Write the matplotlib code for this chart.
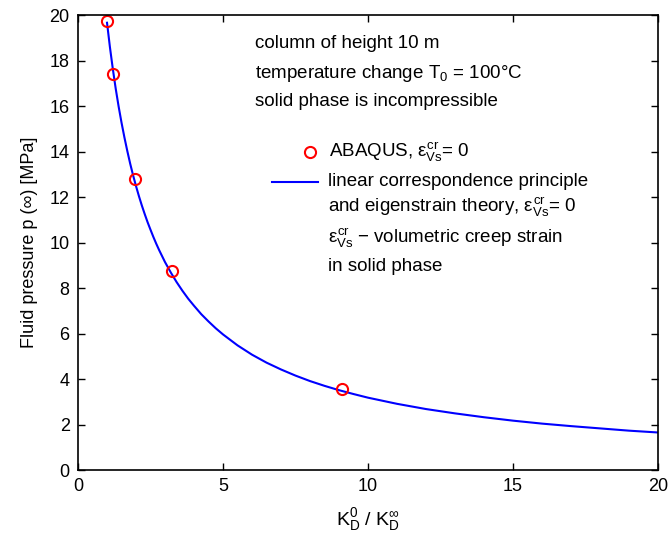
import matplotlib
matplotlib.use('Agg')
import matplotlib.pyplot as plt

plt.rcParams['font.family'] = ['Liberation Sans', 'DejaVu Sans']
plt.rcParams['mathtext.fontset'] = 'custom'
plt.rcParams['mathtext.rm'] = 'Liberation Sans'
plt.rcParams['mathtext.it'] = 'Liberation Sans'
plt.rcParams['mathtext.bf'] = 'Liberation Sans'

# stiffness ratio K_D^0 / K_D^inf and fluid pressure p(inf) [MPa]
theory_x = [1.0, 1.1, 1.2, 1.3, 1.4, 1.5, 1.6, 1.7, 1.8, 1.9, 2.0, 2.1, 2.2, 2.3,
            2.4, 2.5, 2.6, 2.7, 2.8, 2.9, 3.0, 3.2, 3.4, 3.6, 3.8, 4.0, 4.25, 4.5,
            4.75, 5.0, 5.5, 6.0, 6.5, 7.0, 7.5, 8.0, 8.5, 9.0, 9.5, 10.0, 11.0,
            12.0, 13.0, 14.0, 15.0, 16.0, 17.0, 18.0, 19.0, 20.0]
theory_p = [19.66, 18.59, 17.63, 16.76, 15.98, 15.27, 14.62, 14.02, 13.46, 12.95,
            12.48, 12.04, 11.63, 11.25, 10.89, 10.56, 10.24, 9.94, 9.66, 9.40,
            9.14, 8.68, 8.26, 7.88, 7.53, 7.22, 6.85, 6.53, 6.23, 5.96, 5.48,
            5.07, 4.72, 4.42, 4.15, 3.91, 3.70, 3.51, 3.34, 3.18, 2.91, 2.68,
            2.49, 2.32, 2.17, 2.04, 1.93, 1.83, 1.73, 1.65]

abaqus_x = [1.0, 1.2, 1.95, 3.25, 9.1]
abaqus_p = [19.75, 17.4, 12.8, 8.75, 3.55]

fig = plt.figure(figsize=(6.68, 5.42), dpi=100)
ax = fig.add_axes([0.1168, 0.1328, 0.8682, 0.8395])

ax.plot(theory_x, theory_p, color='#0000ff', lw=1.5, solid_joinstyle='round')
ax.plot(abaqus_x, abaqus_p, 'o', mfc='none', mec='#ff0000', mew=1.5, ms=8,
        clip_on=False)

ax.set_xlim(0, 20)
ax.set_ylim(0, 20)
ax.set_xticks([0, 5, 10, 15, 20])
ax.set_yticks(range(0, 21, 2))
ax.tick_params(direction='in', length=5, width=1, top=True, right=True,
               labelsize=13, pad=6)
for s in ax.spines.values():
    s.set_linewidth(1.2)

ax.set_xlabel(r'K$^0_\mathrm{D}$ / K$^\infty_\mathrm{D}$', fontsize=14, labelpad=8)
ax.set_ylabel('Fluid pressure p (\u221e) [MPa]', fontsize=13, labelpad=8)

fs = 13.5
ax.text(6.11, 18.73, 'column of height 10 m', fontsize=fs, va='center')
ax.text(6.11, 17.41, r'temperature change T$_0$ = 100°C', fontsize=fs, va='center')
ax.text(6.11, 16.18, 'solid phase is incompressible', fontsize=fs, va='center')

# hand-placed legend
ax.plot([8.01], [13.98], 'o', mfc='none', mec='#ff0000', mew=1.5, ms=8)
ax.text(8.67, 13.98, r'ABAQUS, $\varepsilon^{cr}_{Vs}$= 0', fontsize=fs, va='center')
ax.plot([6.70, 8.29], [12.67, 12.67], color='#0000ff', lw=1.5)
ax.text(8.62, 12.67, 'linear correspondence principle', fontsize=fs, va='center')
ax.text(8.62, 11.57, r'and eigenstrain theory, $\varepsilon^{cr}_{Vs}$= 0',
        fontsize=fs, va='center')
ax.text(8.62, 10.2, r'$\varepsilon^{cr}_{Vs}$ $-$ volumetric creep strain',
        fontsize=fs, va='center')
ax.text(8.62, 8.96, 'in solid phase', fontsize=fs, va='center')

fig.savefig('out.png', dpi=100)
